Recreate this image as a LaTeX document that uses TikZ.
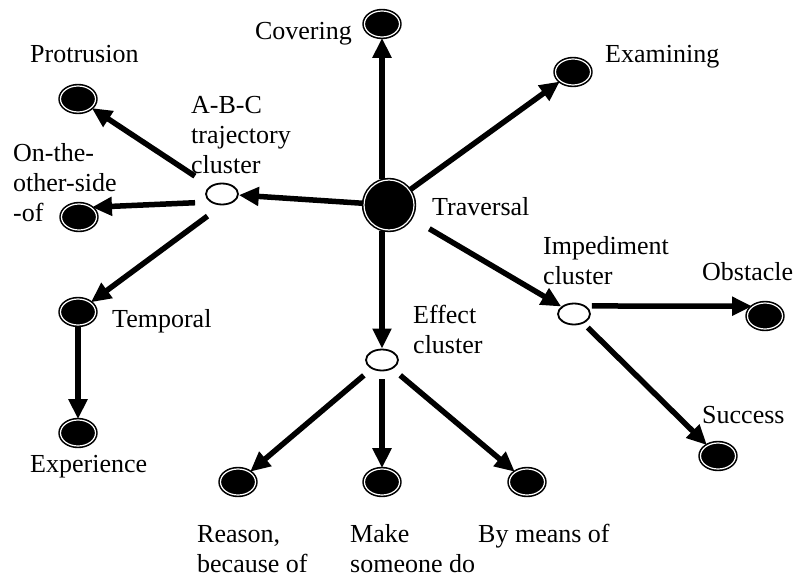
\documentclass[tikz,border=0pt]{standalone}
\usepackage{fontspec}
\setmainfont{Liberation Serif}
\usetikzlibrary{arrows.meta,shapes.geometric}
\tikzset{leaf/.style={ellipse,fill=black,draw=black,double=white,double distance=1.2pt,line width=1.6pt,minimum width=35pt,minimum height=26pt,inner sep=0pt},clus/.style={ellipse,draw=black,fill=white,line width=1.8pt,minimum width=32pt,minimum height=21pt,inner sep=0pt},hub/.style={circle,fill=black,draw=black,double=white,double distance=1.2pt,line width=1.6pt,minimum size=50pt,inner sep=0pt},lab/.style={font=\fontsize{26}{30}\selectfont,inner sep=0pt,align=left},arrow/.style={-{Triangle[length=20pt,width=18pt]},line width=5.5pt}}

\begin{document}
\begin{tikzpicture}[x=1pt,y=-1pt]
\useasboundingbox (0,0) rectangle (797,583);
\node[hub] (trav) at (389,205) {};
\node[leaf] (cov) at (382,24) {};
\node[leaf] (exam) at (573,72) {};
\node[clus] (abc) at (222,194) {};
\node[leaf] (prot) at (78,99) {};
\node[leaf] (oth) at (79,217) {};
\node[leaf] (temp) at (78,312) {};
\node[leaf] (expe) at (78,433) {};
\node[clus] (eff) at (382,360) {};
\node[leaf] (reas) at (238,482) {};
\node[leaf] (make) at (382,482) {};
\node[leaf] (means) at (527,482) {};
\node[clus] (imp) at (574,314) {};
\node[leaf] (obst) at (765,316) {};
\node[leaf] (succ) at (718,456) {};
% labels (base = last line)
\node[lab,anchor=base west] (ltrav) at (432,215) {Traversal};
\node[lab,anchor=base east] (lcov) at (352,40) {Covering};
\node[lab,anchor=base west] (lexam) at (605,63) {Examining};
\node[lab,anchor=base west] (lprot) at (30,63) {Protrusion};
\node[lab,anchor=base west] (labc) at (191,173) {A-B-C\\trajectory\\cluster};
\node[lab,anchor=base west] (loth) at (13,221) {On-the-\\other-side\\-of};
\node[lab,anchor=base west] (ltemp) at (112,327) {Temporal};
\node[lab,anchor=base west] (lexpe) at (30,472) {Experience};
\node[lab,anchor=base west] (leff) at (413,353) {Effect\\cluster};
\node[lab,anchor=base west] (limp) at (543,284) {Impediment\\cluster};
\node[lab,anchor=base west] (lobst) at (702,280) {Obstacle};
\node[lab,anchor=base west] (lsucc) at (702,423) {Success};
\node[lab,anchor=base west] (lreas) at (197,572) {Reason,\\because of};
\node[lab,anchor=base west] (lmake) at (350,572) {Make\\someone do};
\node[lab,anchor=base west] (lmeans) at (478,542) {By means of};
\draw[arrow](trav.north -| cov)--(cov);\draw[arrow](trav)--(exam);\draw[arrow](trav)--(abc);\draw[arrow,shorten <=21pt](trav)--(imp);\draw[arrow](trav.south -| eff)--(eff);
\draw[arrow,shorten <=18pt](abc)--(prot);\draw[arrow,shorten <=15pt](abc.south west)--(oth.north east);\draw[arrow,shorten <=18pt](abc.south)--(temp.north east);\draw[arrow](temp)--(expe);
\draw[arrow,shorten <=10pt](eff)--(reas);\draw[arrow,shorten <=8pt](eff)--(make);\draw[arrow,shorten <=10pt](eff)--(means);
\draw[arrow,shorten <=6pt](imp.north east)--(obst.north west);\draw[arrow,shorten <=6pt](imp)--(succ);
\end{tikzpicture}
\end{document}
